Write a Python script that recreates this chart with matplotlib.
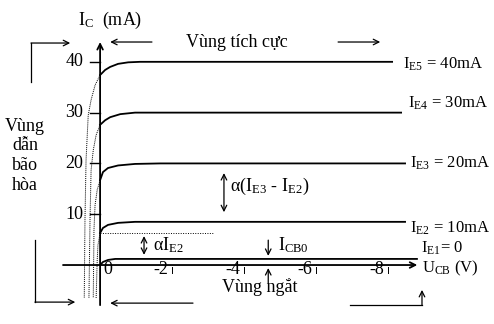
import numpy as np
import matplotlib
matplotlib.use("Agg")
import matplotlib.pyplot as plt

plt.rcParams['font.family'] = ['Liberation Serif', 'DejaVu Serif']
plt.rcParams['mathtext.fontset'] = 'stix'

# output curves, U_CB in volts (axis reversed), I_C in mA
ie5_u = [0, -0.14, -0.28, -0.5, -0.78, -1.11, -8.11]
ie5_i = [37.4, 38.4, 39.0, 39.6, 39.9, 40, 40]
ie4_u = [0, -0.14, -0.28, -0.56, -0.97, -8.36]
ie4_i = [27.6, 28.5, 29.1, 29.7, 30, 30]
ie3_u = [0, -0.08, -0.22, -0.5, -0.97, -1.67, -8.47]
ie3_i = [16.7, 18.3, 19.1, 19.6, 19.9, 20, 20]
ie2_u = [0, -0.08, -0.22, -0.5, -0.97, -1.39, -8.47]
ie2_i = [6.3, 7.3, 7.9, 8.3, 8.5, 8.5, 8.5]
ie1_u = [0, -0.08, -0.22, -0.42, -0.69, -8.8]
ie1_i = [0, 0.6, 1.0, 1.2, 1.2, 1.2]

# saturation region (U_CB > 0), dotted
sat5_u = [0, 0.14, 0.25, 0.33, 0.39, 0.42, 0.44]
sat5_i = [37.4, 35.4, 32.5, 29.5, 20.7, 8.9, -6.5]
sat4_u = [0, 0.11, 0.19, 0.25, 0.28, 0.31]
sat4_i = [27.6, 25.6, 22.6, 18.7, 8.9, -6.5]
sat3_u = [0, 0.08, 0.14, 0.17, 0.19]
sat3_i = [16.7, 14.8, 11.8, 6.9, -6.5]
sat2_u = [0, 0.06, 0.08, 0.11]
sat2_i = [6.3, 3.9, 1.0, -6.5]

curve_labels = ['$\\mathregular{I_{E5}}$ = 40mA', '$\\mathregular{I_{E4}}$ = 30mA',
                '$\\mathregular{I_{E3}}$ = 20mA', '$\\mathregular{I_{E2}}$ = 10mA',
                '$\\mathregular{I_{E1}}$= 0']
yticks = [10, 20, 30, 40]
xticks = [-2, -4, -6, -8]

fig = plt.figure(figsize=(4.94, 3.24), dpi=100)
ax = fig.add_axes([0, 0, 1, 1])
ax.set_xlim(2.78, -10.94)
ax.set_ylim(-11.61, 52.17)
ax.axis('off')

lw = 1.3
for u, i in [(ie5_u, ie5_i), (ie4_u, ie4_i), (ie3_u, ie3_i), (ie2_u, ie2_i), (ie1_u, ie1_i)]:
    ax.plot(u, i, color='black', lw=lw)
for u, i in [(sat5_u, sat5_i), (sat4_u, sat4_i), (sat3_u, sat3_i), (sat2_u, sat2_i)]:
    ax.plot(u, i, color='black', lw=0.7, ls=(0, (1, 1)))

fs = 13
fs2 = 12
ap = dict(arrowstyle='->', color='black', lw=0.9, shrinkA=0, shrinkB=0)
ap2 = dict(arrowstyle='<->', color='black', lw=0.9, shrinkA=0, shrinkB=0)

# axes
ax.annotate('', xy=(0, 43.9), xytext=(0, -7.9), arrowprops=dict(ap, lw=1.3))
ax.annotate('', xy=(-8.81, 0), xytext=(1.03, 0), arrowprops=dict(ap, lw=1.3))
for t in yticks:
    ax.plot([0.28, 0], [t, t], color='black', lw=1)
    ax.text(0.47, t, str(t), ha='right', va='center', fontsize=fs)
ax.text(-0.22, -0.8, '0', ha='center', va='center', fontsize=fs)
for t in xticks:
    ax.plot([t, t], [-0.4, -1.6], color='black', lw=0.7)
    ax.text(t + 0.12, -0.8, str(t), ha='right', va='center', fontsize=fs)

# curve labels
lab_pos = [(-8.42, 39.6), (-8.56, 31.9), (-8.61, 20.1), (-8.6, 7.3), (-8.92, 3.3)]
for (x, y), s in zip(lab_pos, curve_labels):
    ax.text(x, y, s, ha='left', va='center', fontsize=fs2)
ax.text(-8.94, -0.6, '$\\mathregular{U_{CB}}$ (V)', ha='left', va='center', fontsize=fs2)
ax.text(0.61, 48.2, '$\\mathregular{I_{C}}$  (mA)', ha='left', va='center', fontsize=fs)

# regions
ax.text(-2.39, 43.9, 'Vùng tích cực', ha='left', va='center', fontsize=fs)
ax.annotate('', xy=(-0.28, 43.9), xytext=(-1.44, 43.9), arrowprops=ap)
ax.annotate('', xy=(-7.78, 43.9), xytext=(-6.61, 43.9), arrowprops=ap)
ax.plot([1.92, 1.92], [36.0, 43.7], color='black', lw=0.9)
ax.annotate('', xy=(0.83, 43.7), xytext=(1.92, 43.7), arrowprops=ap)
ax.text(2.08, 21.5, 'Vùng\ndẫn\nbão\nhòa', ha='center', va='center', fontsize=fs, linespacing=1.22)

ax.annotate('', xy=(-3.44, 18.1), xytext=(-3.44, 10.4), arrowprops=ap2)
ax.text(-3.61, 15.4, 'α(I$_{\\mathregular{E3}}$ - I$_{\\mathregular{E2}}$)', ha='left', va='center', fontsize=fs)
ax.plot([0, -3.14], [6.3, 6.3], color='black', lw=0.7, ls=(0, (1, 1.5)))
ax.annotate('', xy=(-1.22, 5.7), xytext=(-1.22, 2.0), arrowprops=ap2)
ax.text(-1.47, 3.9, 'αI$_{\\mathregular{E2}}$', ha='left', va='center', fontsize=fs)
ax.annotate('', xy=(-4.67, 1.8), xytext=(-4.67, 4.9), arrowprops=ap)
ax.text(-4.94, 3.9, '$\\mathregular{I_{CB0}}$', ha='left', va='center', fontsize=fs)

ax.text(-3.39, -4.3, 'Vùng ngắt', ha='left', va='center', fontsize=fs)
ax.annotate('', xy=(-4.67, -0.6), xytext=(-4.67, -3.5), arrowprops=ap)
ax.plot([1.81, 1.81], [4.9, -7.3], color='black', lw=0.9)
ax.annotate('', xy=(0.69, -7.3), xytext=(1.81, -7.3), arrowprops=ap)
ax.annotate('', xy=(-0.28, -7.5), xytext=(-2.58, -7.5), arrowprops=ap)
ax.plot([-6.94, -8.94], [-7.9, -7.9], color='black', lw=0.9)
ax.annotate('', xy=(-8.94, -4.9), xytext=(-8.94, -7.9), arrowprops=ap)

fig.savefig('out.png', dpi=100)
